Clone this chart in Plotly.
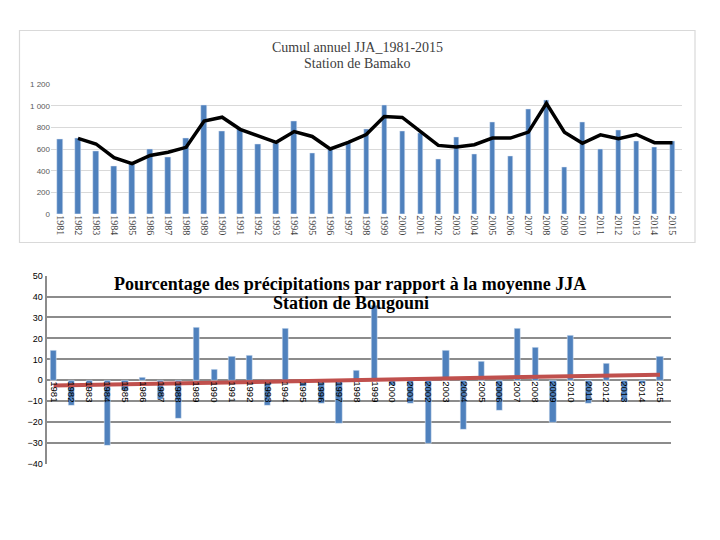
import plotly.graph_objects as go

# years shared by both panels
years = list(range(1981, 2016))

# Bamako: cumul annuel JJA (mm)
bamako_cumul = [691, 700, 582, 446, 468, 600, 528, 700, 1008, 763,
                782, 649, 660, 857, 567, 603, 664, 788, 1006, 764,
                745, 506, 715, 555, 852, 533, 970, 1052, 433, 852,
                600, 779, 676, 615, 676]

# black curve (moving average), starts in 1982
moyenne_years = list(range(1982, 2016))
moyenne_mobile = [700, 649, 522, 468, 543, 573, 618, 860, 896, 784,
                  724, 664, 763, 718, 603, 664, 736, 903, 894, 760,
                  636, 621, 642, 703, 703, 758, 1024, 758, 655, 733,
                  697, 736, 661, 661]

# Bougouni: pourcentage par rapport a la moyenne JJA
bougouni_pct = [14, -12, -4, -31, -5, 1.5, -9, -18.3, 25, 5,
                11.5, 12, -12, 24.5, -3, -11, -20.6, 4.5, 35.5, -2.5,
                -11, -30, 14.3, -23.4, 8.7, -14.7, 24.5, 15.6, -20, 21.4,
                -11, 7.8, -10, -1.5, 11.4]

# linear trend end points
tendance_years = [1981, 2015]
tendance_values = [-2.5, 2.7]

top_ticks = [0, 200, 400, 600, 800, 1000, 1200]
top_ticktext = ["0", "200", "400", "600", "800", "1 000", "1 200"]
bottom_ticks = [-40, -30, -20, -10, 0, 10, 20, 30, 40, 50]

W, H = 720, 540
BLUE = "#4F81BD"

fig = go.Figure()

fig.add_trace(go.Bar(x=years, y=bamako_cumul, marker_color=BLUE, width=0.3,
                     xaxis="x", yaxis="y", showlegend=False))
fig.add_trace(go.Scatter(x=moyenne_years, y=moyenne_mobile, mode="lines",
                         line=dict(color="black", width=3.5),
                         xaxis="x", yaxis="y", showlegend=False))

fig.add_trace(go.Bar(x=years, y=bougouni_pct, marker_color=BLUE, width=0.35,
                     xaxis="x2", yaxis="y2", showlegend=False))
fig.add_trace(go.Scatter(x=tendance_years, y=tendance_values, mode="lines",
                         line=dict(color="#C0504D", width=4),
                         xaxis="x2", yaxis="y2", showlegend=False))

# panel geometry in pixels
top_x = (51, 681.5)
top_y = (80.7, 213.3)      # 1200 .. 0
bot_x = (46.5, 670.7)
bot_y = (275.7, 467.7)     # 50 .. -40
zero_px = bot_y[0] + (bot_y[1] - bot_y[0]) * 50 / 90

fig.update_layout(
    width=W, height=H,
    margin=dict(l=0, r=0, t=0, b=0),
    paper_bgcolor="white", plot_bgcolor="rgba(0,0,0,0)",
    bargap=0,
    xaxis=dict(domain=[top_x[0] / W, top_x[1] / W], range=[1980.5, 2015.5],
               tickvals=years, ticktext=[str(y) for y in years], tickangle=90,
               tickfont=dict(family="Liberation Serif", size=10, color="#404040"),
               showgrid=False, zeroline=False, showline=False, ticks="",
               anchor="y"),
    yaxis=dict(domain=[1 - top_y[1] / H, 1 - top_y[0] / H], range=[0, 1200],
               tickvals=top_ticks, ticktext=top_ticktext,
               tickfont=dict(family="Liberation Sans", size=8, color="#595959"),
               gridcolor="#D9D9D9", gridwidth=1, zeroline=False,
               showline=False, ticks="", anchor="x"),
    xaxis2=dict(domain=[bot_x[0] / W, bot_x[1] / W], range=[1980.6, 2015.6],
                tickvals=years, ticktext=[str(y) for y in years], tickangle=90,
                tickfont=dict(family="Liberation Sans", size=9.5, color="black"),
                showgrid=False, zeroline=False, showline=False, ticks="",
                anchor="free", position=1 - zero_px / H),
    yaxis2=dict(domain=[1 - bot_y[1] / H, 1 - bot_y[0] / H], range=[-40, 50],
                tickvals=bottom_ticks,
                tickfont=dict(family="Liberation Sans", size=9, color="black"),
                gridcolor="#8C8C8C", gridwidth=2, zeroline=False,
                showline=True, linecolor="#8C8C8C", linewidth=2,
                ticks="", anchor="x2"),
    shapes=[dict(type="rect", xref="paper", yref="paper",
                 x0=19.5 / W, x1=695 / W, y0=1 - 242 / H, y1=1 - 26 / H,
                 line=dict(color="#D9D9D9", width=1.2))],
    annotations=[
        dict(text="Cumul annuel JJA_1981-2015", xref="paper", yref="paper",
             x=357 / W, y=1 - 43 / H, showarrow=False,
             xanchor="center", yanchor="middle",
             font=dict(family="Liberation Serif", size=14, color="#404040")),
        dict(text="Station de Bamako", xref="paper", yref="paper",
             x=357 / W, y=1 - 60 / H, showarrow=False,
             xanchor="center", yanchor="middle",
             font=dict(family="Liberation Serif", size=14, color="#404040")),
        dict(text="<b>Pourcentage des précipitations par rapport à la moyenne JJA</b>",
             xref="paper", yref="paper", x=350 / W, y=1 - 284 / H,
             showarrow=False, xanchor="center", yanchor="middle",
             font=dict(family="Liberation Serif", size=18, color="black")),
        dict(text="<b>Station de Bougouni</b>",
             xref="paper", yref="paper", x=351 / W, y=1 - 304 / H,
             showarrow=False, xanchor="center", yanchor="middle",
             font=dict(family="Liberation Serif", size=18, color="black")),
    ],
)

fig.write_html("out.html", config={"displayModeBar": False},
               post_script="document.body.style.margin = '0';")
